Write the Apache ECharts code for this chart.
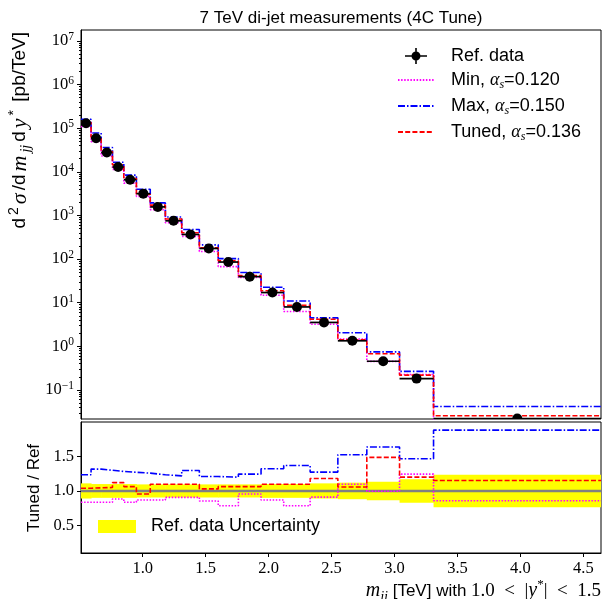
<!DOCTYPE html>
<html>
<head>
<meta charset="utf-8">
<script src="https://cdn.jsdelivr.net/npm/echarts@6/dist/echarts.min.js"></script>
<style>
  html, body { margin: 0; padding: 0; background: #fff; }
  #chart { width: 604px; height: 599px; }
</style>
</head>
<body>
<div id="chart"></div>
<script>
// m_jj bin edges [TeV], 1.0 < |y*| < 1.5
const binEdges = [0.51, 0.59, 0.67, 0.76, 0.85, 0.95, 1.06, 1.18, 1.31, 1.45, 1.60,
                  1.76, 1.94, 2.12, 2.33, 2.55, 2.78, 3.04, 3.31, 4.64]
// measured d2sigma/dm dy* [pb/TeV]
const refData = [1.30e5, 5.9e4, 2.77e4, 1.29e4, 6.6e3, 3.16e3, 1.57e3, 753, 366, 175,
                 85.5, 39.6, 17.1, 8.0, 3.53, 1.34, 0.455, 0.182, 0.0222]
// relative uncertainty of the measurement
const refRelErr = [0.11, 0.10, 0.10, 0.10, 0.10, 0.095, 0.095, 0.095, 0.095, 0.095,
                   0.095, 0.095, 0.10, 0.10, 0.11, 0.12, 0.135, 0.17, 0.235]
// MC / data
const minRatio = [0.835, 0.835, 0.835, 0.883, 0.835, 0.868, 0.868, 0.907, 0.907, 0.854,
                  0.786, 0.956, 0.868, 0.786, 0.91, 1.098, 0.995, 1.244, 0.858]
const maxRatio = [1.234, 1.317, 1.30, 1.283, 1.27, 1.258, 1.234, 1.219, 1.297, 1.209,
                  1.200, 1.244, 1.322, 1.37, 1.273, 1.526, 1.638, 1.468, 1.882]
const tunedRatio = [1.04, 1.045, 1.05, 1.12, 1.063, 0.956, 1.097, 1.097, 1.097, 1.03,
                    1.063, 1.063, 1.097, 1.097, 1.18, 1.058, 1.487, 1.20, 1.151]

const xTicks = [1.0, 1.5, 2.0, 2.5, 3.0, 3.5, 4.0, 4.5]
const yTicks = [0.1, 1, 10, 100, 1e3, 1e4, 1e5, 1e6, 1e7]
const ratioTicks = [0.5, 1.0, 1.5]

const yMin = 0.0216, yMax = 1.78e7

// log minor ticks (2..9 x 10^n)
const yMinorTicks = []
for (let n = -2; n <= 7; n++) {
  for (let k = 2; k <= 9; k++) {
    const v = Number((k * Math.pow(10, n)).toPrecision(3))
    if (v > yMin && v < yMax) yMinorTicks.push(v)
  }
}

const nBins = refData.length
const binLo = binEdges.slice(0, -1)
const binHi = binEdges.slice(1)
const binMid = binLo.map((lo, i) => (lo + binHi[i]) / 2)

// histogram as step line: one point per edge, last value repeated
const stepOf = vals => binEdges.map((e, i) => [e, vals[Math.min(i, nBins - 1)]])
const scaled = r => refData.map((v, i) => v * r[i])

const sans = 'Liberation Sans'
const serif = 'Liberation Serif'

const mc = [
  { name: 'Min', ratio: minRatio, color: '#ff00ff', dash: [1.5, 1.6], label: '{t|Min, }{m|α}{sub|s}{t|=0.120}' },
  { name: 'Max', ratio: maxRatio, color: '#0000ff', dash: [7, 2, 1.5, 2], label: '{t|Max, }{m|α}{sub|s}{t|=0.150}' },
  { name: 'Tuned', ratio: tunedRatio, color: '#ff0000', dash: [5, 2.2], label: '{t|Tuned, }{m|α}{sub|s}{t|=0.136}' }
]
const legendLabel = { 'Ref. data': '{t|Ref. data}' }
mc.forEach(s => { legendLabel[s.name] = s.label })

const refIcon = 'path://M0,0 M36,16 M7,7.2 H29 V8.8 H7 Z M17.2,0 H18.8 V16 H17.2 Z ' +
                'M22.5,8 A4.5,4.5 0 1 1 13.5,8 A4.5,4.5 0 1 1 22.5,8 Z'

const tickFont = { fontFamily: serif, fontSize: 16.5, color: '#000' }
const ensp = '\u2002'

const chart = echarts.init(document.getElementById('chart'))

const option = {
  animation: false,
  backgroundColor: '#fff',
  title: {
    text: '7 TeV di-jet measurements (4C Tune)',
    left: 341,
    top: 10,
    textAlign: 'center',
    padding: 0,
    textStyle: { fontFamily: sans, fontSize: 17, fontWeight: 'normal', color: '#000' }
  },
  grid: [
    { left: 81, top: 30, width: 520, height: 389, show: true, borderColor: '#000', borderWidth: 1, outerBoundsMode: 'none' },
    { left: 81, top: 422, width: 520, height: 131, show: true, borderColor: '#000', borderWidth: 1, outerBoundsMode: 'none' }
  ],
  legend: [
    {
      orient: 'vertical',
      left: 397,
      top: 47,
      itemWidth: 36,
      itemHeight: 16,
      itemGap: 6,
      padding: 0,
      selectedMode: false,
      data: [
        { name: 'Ref. data', icon: refIcon, itemStyle: { color: '#000', opacity: 1 } },
        ...mc.map(s => ({ name: s.name, itemStyle: { opacity: 0 } }))
      ],
      formatter: name => legendLabel[name],
      textStyle: {
        padding: [0, 0, 0, 12],
        rich: {
          t: { fontFamily: sans, fontSize: 18, lineHeight: 22, color: '#000' },
          m: { fontFamily: serif, fontStyle: 'italic', fontSize: 18, lineHeight: 22, color: '#000' },
          sub: { fontFamily: serif, fontStyle: 'italic', fontSize: 12, lineHeight: 14, verticalAlign: 'bottom', color: '#000' }
        }
      }
    },
    {
      left: 98,
      top: 516,
      itemWidth: 38,
      itemHeight: 13,
      padding: 0,
      selectedMode: false,
      icon: 'rect',
      data: ['Ref. data Uncertainty'],
      textStyle: { fontFamily: sans, fontSize: 18, lineHeight: 21, color: '#000', padding: [0, 0, 0, 10] }
    }
  ],
  xAxis: [
    {
      type: 'value', gridIndex: 0, min: binEdges[0], max: binEdges[nBins],
      axisLine: { show: false }, axisTick: { show: false }, axisLabel: { show: false }, splitLine: { show: false }
    },
    {
      type: 'value', gridIndex: 1, min: binEdges[0], max: binEdges[nBins],
      axisLine: { show: true, lineStyle: { color: '#000', width: 1 } },
      axisTick: { show: true, customValues: xTicks, length: 4, lineStyle: { color: '#000' } },
      axisLabel: { customValues: xTicks, margin: 7, formatter: v => v.toFixed(1), ...tickFont },
      splitLine: { show: false }
    }
  ],
  yAxis: [
    {
      type: 'log', gridIndex: 0, min: yMin, max: yMax,
      axisLine: { show: true, lineStyle: { color: '#000', width: 1 } },
      axisTick: { show: true, customValues: yTicks, length: 4, lineStyle: { color: '#000' } },
      axisLabel: {
        customValues: yTicks,
        margin: 7,
        formatter: v => {
          const n = Math.round(Math.log10(v))
          return '{b|10}{e|' + (n < 0 ? '\u2212' + (-n) : n) + '}'
        },
        rich: {
          b: { fontFamily: serif, fontSize: 16.5, lineHeight: 20, color: '#000' },
          e: { fontFamily: serif, fontSize: 11.5, lineHeight: 11, verticalAlign: 'top', color: '#000' }
        }
      },
      splitLine: { show: false }
    },
    {
      type: 'log', gridIndex: 0, min: yMin, max: yMax, position: 'left',
      axisLine: { show: false },
      axisTick: { show: true, customValues: yMinorTicks, length: 2, lineStyle: { color: '#000' } },
      axisLabel: { show: false },
      splitLine: { show: false }
    },
    {
      type: 'value', gridIndex: 1, min: 0.1, max: 2.0,
      axisLine: { show: true, lineStyle: { color: '#000', width: 1 } },
      axisTick: { show: true, customValues: ratioTicks, length: 4, lineStyle: { color: '#000' } },
      axisLabel: { customValues: ratioTicks, margin: 7, formatter: v => v.toFixed(1), ...tickFont },
      splitLine: { show: false }
    }
  ],
  graphic: [
    {
      type: 'text', x: 20, y: 32, rotation: Math.PI / 2,
      style: {
        text: '{r|d}{sup|2}{m|σ}{r|/d}{m|m}{sub|jj}{r|d}{m|y}{sup|*}{e| [pb/TeV]}',
        align: 'right', verticalAlign: 'middle',
        rich: {
          r: { fontFamily: sans, fontSize: 19, lineHeight: 26, padding: [0, 3, 0, 0], fill: '#000' },
          e: { fontFamily: sans, fontSize: 19, lineHeight: 26, fill: '#000' },
          m: { fontFamily: serif, fontStyle: 'italic', fontSize: 22, lineHeight: 26, padding: [0, 3, 0, 0], fill: '#000' },
          sup: { fontFamily: sans, fontSize: 14, lineHeight: 13, verticalAlign: 'top', padding: [0, 3, 0, 0], fill: '#000' },
          sub: { fontFamily: serif, fontStyle: 'italic', fontSize: 14, lineHeight: 14, verticalAlign: 'bottom', padding: [0, 3, 0, 0], fill: '#000' }
        }
      }
    },
    {
      type: 'text', x: 34, y: 488, rotation: Math.PI / 2,
      style: {
        text: 'Tuned / Ref', align: 'center', verticalAlign: 'middle',
        fontFamily: sans, fontSize: 17, fill: '#000'
      }
    },
    {
      type: 'text', x: 601, y: 591,
      style: {
        text: '{m|m}{sub|jj}{t| [TeV] with }{n|1.0' + ensp + '<' + ensp + '|}{m|y}{sup|*}{n||' + ensp + '<' + ensp + '1.5}',
        align: 'right', verticalAlign: 'middle',
        rich: {
          t: { fontFamily: sans, fontSize: 17, lineHeight: 26, fill: '#000' },
          n: { fontFamily: serif, fontSize: 19, lineHeight: 26, fill: '#000' },
          m: { fontFamily: serif, fontStyle: 'italic', fontSize: 20, lineHeight: 26, fill: '#000' },
          sup: { fontFamily: serif, fontSize: 13, lineHeight: 13, verticalAlign: 'top', fill: '#000' },
          sub: { fontFamily: serif, fontStyle: 'italic', fontSize: 14, lineHeight: 14, verticalAlign: 'bottom', fill: '#000' }
        }
      }
    }
  ],
  series: [
    // main panel: MC histograms
    ...mc.map(s => ({
      name: s.name,
      type: 'line',
      xAxisIndex: 0, yAxisIndex: 0,
      step: 'end',
      symbol: 'none',
      z: 3,
      data: stepOf(scaled(s.ratio)),
      itemStyle: { color: s.color },
      lineStyle: { color: s.color, width: 1.6, type: s.dash }
    })),
    // main panel: data points with bin width and uncertainty
    {
      name: 'Ref. data',
      type: 'custom',
      xAxisIndex: 0, yAxisIndex: 0,
      clip: true,
      z: 4,
      itemStyle: { color: '#000' },
      data: binLo.map((lo, i) => [lo, binHi[i], refData[i], refRelErr[i], binMid[i]]),
      encode: { x: [0, 1], y: 2 },
      renderItem: (params, api) => {
        const v = api.value(2), e = api.value(3)
        const a = api.coord([api.value(0), v])
        const b = api.coord([api.value(1), v])
        const c = api.coord([api.value(4), v])
        const lo = api.coord([api.value(4), v * (1 - e)])
        const hi = api.coord([api.value(4), v * (1 + e)])
        const st = { stroke: '#000', lineWidth: 1.7 }
        return {
          type: 'group',
          children: [
            { type: 'line', shape: { x1: a[0], y1: a[1], x2: b[0], y2: b[1] }, style: st },
            { type: 'line', shape: { x1: lo[0], y1: lo[1], x2: hi[0], y2: hi[1] }, style: st },
            { type: 'circle', shape: { cx: c[0], cy: c[1], r: 5 }, style: { fill: '#000' } }
          ]
        }
      }
    },
    // ratio panel
    {
      name: 'Ref. data Uncertainty',
      type: 'custom',
      xAxisIndex: 1, yAxisIndex: 2,
      clip: true,
      z: 1,
      itemStyle: { color: '#ffff00' },
      data: binLo.map((lo, i) => [lo, binHi[i], 1, refRelErr[i]]),
      encode: { x: [0, 1], y: 2 },
      renderItem: (params, api) => {
        const e = api.value(3)
        const p0 = api.coord([api.value(0), 1 + e])
        const p1 = api.coord([api.value(1), 1 - e])
        return {
          type: 'rect',
          shape: { x: p0[0], y: p0[1], width: p1[0] - p0[0] + 0.5, height: p1[1] - p0[1] },
          style: { fill: '#ffff00' }
        }
      }
    },
    {
      name: 'refRatio',
      type: 'line',
      xAxisIndex: 1, yAxisIndex: 2,
      symbol: 'none',
      z: 2,
      data: stepOf(refData.map(v => v / v)),
      lineStyle: { color: '#808080', width: 2.5 }
    },
    ...mc.map(s => ({
      name: s.name,
      type: 'line',
      xAxisIndex: 1, yAxisIndex: 2,
      step: 'end',
      symbol: 'none',
      z: 3,
      data: stepOf(s.ratio),
      itemStyle: { color: s.color },
      lineStyle: { color: s.color, width: 1.6, type: s.dash }
    }))
  ]
}

chart.setOption(option)
</script>
</body>
</html>
